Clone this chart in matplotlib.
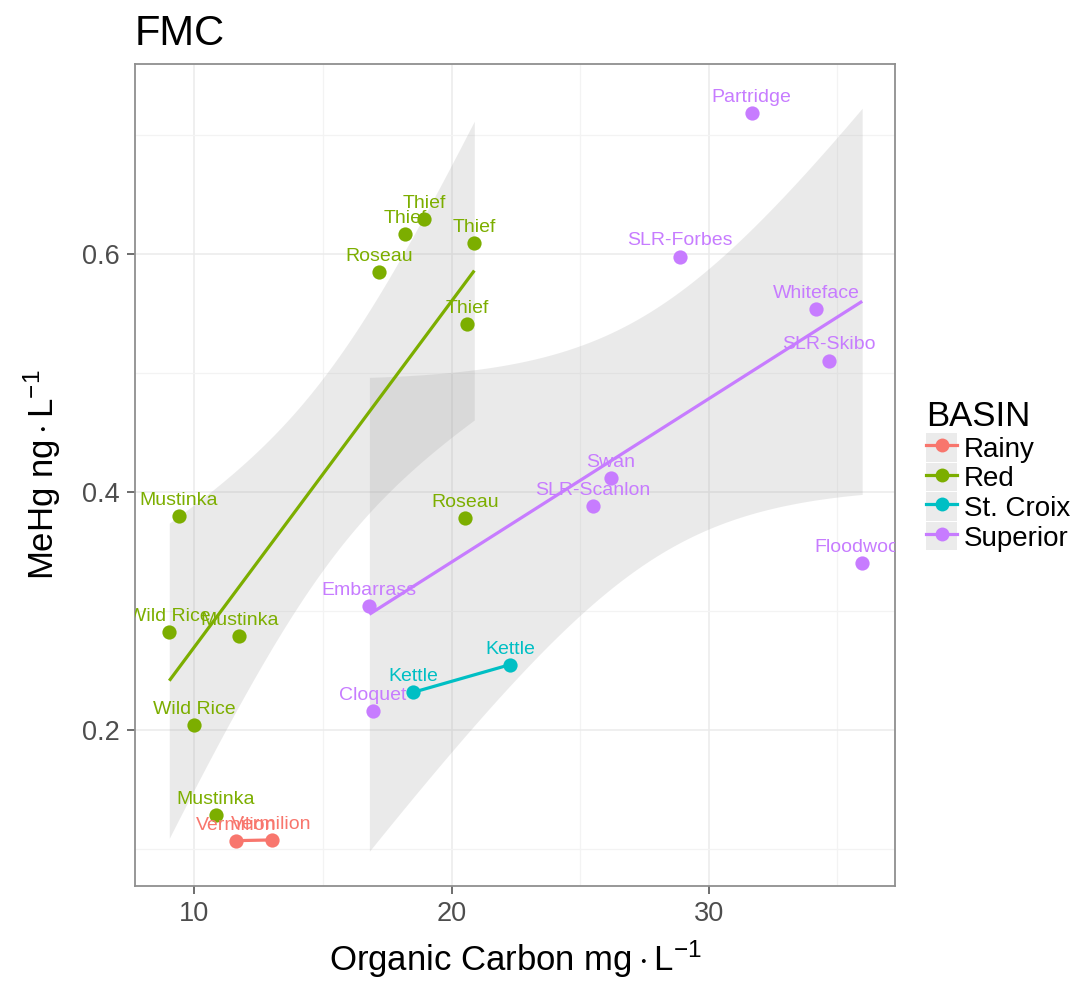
import numpy as np
import matplotlib
matplotlib.use("Agg")
import matplotlib.pyplot as plt
from matplotlib.lines import Line2D
from matplotlib.patches import Rectangle
from matplotlib.legend_handler import HandlerTuple

plt.rcParams['font.family'] = ['Liberation Sans', 'DejaVu Sans']
plt.rcParams['mathtext.fontset'] = 'custom'
plt.rcParams['mathtext.rm'] = 'Liberation Sans'
plt.rcParams['mathtext.it'] = 'Liberation Sans:italic'

# ---- data ----
basins = ["Rainy", "Red", "St. Croix", "Superior"]
colors = {"Rainy": "#F8766D", "Red": "#7CAE00", "St. Croix": "#00BFC4", "Superior": "#C77CFF"}

rainy_names = ["Vermilion", "Vermilion"]
rainy_oc = [11.61, 13.00]
rainy_mehg = [0.1074, 0.1080]

red_names = ["Thief", "Thief", "Thief", "Roseau", "Thief", "Mustinka", "Roseau",
             "Wild Rice", "Mustinka", "Wild Rice", "Mustinka"]
red_oc = [18.93, 18.20, 20.88, 17.17, 20.61, 9.40, 20.52, 9.02, 11.74, 9.98, 10.84]
red_mehg = [0.6296, 0.6172, 0.6094, 0.5850, 0.5416, 0.3803, 0.3786, 0.2830, 0.2794, 0.2046, 0.1290]

stcroix_names = ["Kettle", "Kettle"]
stcroix_oc = [18.51, 22.27]
stcroix_mehg = [0.2321, 0.2553]

superior_names = ["Partridge", "SLR-Forbes", "Whiteface", "SLR-Skibo", "Swan", "SLR-Scanlon",
                  "Floodwood", "Embarrass", "Cloquet"]
superior_oc = [31.66, 28.88, 34.16, 34.67, 26.18, 25.48, 35.96, 16.80, 16.93]
superior_mehg = [0.7187, 0.5982, 0.5540, 0.5108, 0.4119, 0.3889, 0.3410, 0.3046, 0.2164]

groups = {
    "Rainy": (rainy_names, rainy_oc, rainy_mehg),
    "Red": (red_names, red_oc, red_mehg),
    "St. Croix": (stcroix_names, stcroix_oc, stcroix_mehg),
    "Superior": (superior_names, superior_oc, superior_mehg),
}

# two-sided 95% t quantiles by degrees of freedom
t975 = {7: 2.364624, 9: 2.262157}

fig = plt.figure(figsize=(10.76, 9.88), dpi=100)
ax = fig.add_axes([0.12546, 0.10324, 0.70632, 0.83198])

for name, (labels, xs, ys) in groups.items():
    x = np.array(xs); y = np.array(ys)
    c = colors[name]
    n = len(x)
    b1, b0 = np.polyfit(x, y, 1)
    xg = np.linspace(x.min(), x.max(), 200)
    yg = b0 + b1 * xg
    if n > 2:
        resid = y - (b0 + b1 * x)
        s = np.sqrt(np.sum(resid ** 2) / (n - 2))
        sxx = np.sum((x - x.mean()) ** 2)
        se = s * np.sqrt(1.0 / n + (xg - x.mean()) ** 2 / sxx)
        t = t975[n - 2]
        ax.fill_between(xg, yg - t * se, yg + t * se, color="#999999", alpha=0.2,
                        linewidth=0, zorder=1.5)
    ax.plot(xg, yg, color=c, lw=2.3, zorder=2, solid_capstyle='butt')
    ax.scatter(x, y, s=105, color=c, zorder=3, linewidths=0)
    for lab, xi, yi in zip(labels, xs, ys):
        tx = ax.annotate(lab, (xi, yi), xytext=(0, 8), textcoords='offset points',
                         ha='center', va='baseline', fontsize=14, color=c, zorder=4,
                         annotation_clip=False)
        tx.set_clip_on(True)
        tx.set_clip_box(ax.bbox)

ax.set_xlim(7.687, 37.236)
ax.set_ylim(0.0693, 0.760)
ax.set_xticks([10, 20, 30])
ax.set_xticks([15, 25, 35], minor=True)
ax.set_yticks([0.2, 0.4, 0.6])
ax.set_yticklabels(["0.2", "0.4", "0.6"])
ax.set_yticks([0.1, 0.3, 0.5, 0.7], minor=True)
ax.grid(which='major', color='#EBEBEB', lw=1.1, zorder=0)
ax.grid(which='minor', color='#F3F3F3', lw=0.9, zorder=0)
ax.set_axisbelow(True)
for sp in ax.spines.values():
    sp.set_color('#8F8F8F')
    sp.set_linewidth(1.3)
ax.tick_params(which='major', length=6, width=1.2, color='#555555', labelsize=19.5,
               labelcolor='#4D4D4D', pad=5)
ax.tick_params(which='minor', length=0)

ax.set_xlabel(r'Organic Carbon $\mathrm{mg}\cdot\mathrm{L}^{-1}$', fontsize=25, labelpad=8)
ax.set_ylabel(r'MeHg $\mathrm{ng}\cdot\mathrm{L}^{-1}$', fontsize=25, labelpad=14)
ax.set_title('FMC', loc='left', fontsize=30, pad=14)

handles = []
for b in basins:
    bg = Rectangle((0, 0), 1, 1, facecolor='#EBEBEB', edgecolor='none')
    ln = Line2D([0], [0], color=colors[b], lw=2.3, marker='o', markersize=10,
                markeredgewidth=0)
    handles.append((bg, ln))
leg = fig.legend(handles, basins, handler_map={tuple: HandlerTuple(ndivide=1, pad=0)},
                 loc='upper left', bbox_to_anchor=(0.861, 0.595), frameon=False,
                 fontsize=20, title='BASIN', title_fontsize=25,
                 handlelength=1.1, handleheight=1.2, labelspacing=0.0,
                 handletextpad=0.25, borderaxespad=0, borderpad=0)
leg._legend_box.align = 'left'

fig.savefig('out.png', dpi=100)
